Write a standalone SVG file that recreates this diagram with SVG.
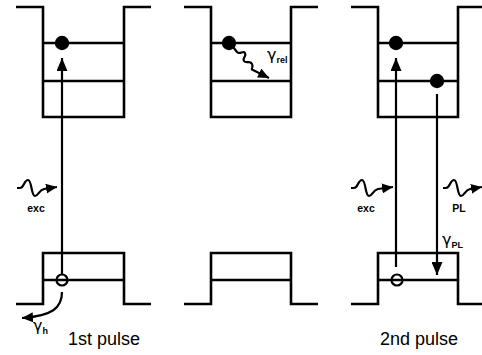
<svg xmlns="http://www.w3.org/2000/svg" width="482" height="355" viewBox="0 0 482 355">
<defs>
<marker id="ah" viewBox="0 0 13 11" refX="13" refY="5.5" markerWidth="13" markerHeight="11" markerUnits="userSpaceOnUse" orient="auto"><path d="M0,0 L13,5.5 L0,11 z" fill="#000"/></marker>
<marker id="ahs" viewBox="0 0 11 10" refX="11" refY="5" markerWidth="11" markerHeight="10" markerUnits="userSpaceOnUse" orient="auto"><path d="M0,0 L11,5 L0,10 z" fill="#000"/></marker>
</defs>
<style>
.w{fill:none;stroke:#000;stroke-width:2.6;stroke-linejoin:miter}
.lv{stroke:#000;stroke-width:2.4}
.c{fill:none;stroke:#000;stroke-width:2.2}
.dot{fill:#000}
.hole{fill:none;stroke:#000;stroke-width:2.2}
.lbl{font-family:"Liberation Sans",Arial,sans-serif;font-weight:bold;font-size:10.5px;text-anchor:middle}
.g{font-family:"DejaVu Sans",sans-serif;font-size:16px}
.sub{font-family:"Liberation Sans",Arial,sans-serif;font-weight:bold;font-size:9px}
.big{font-family:"Liberation Sans",Arial,sans-serif;font-size:18px}
</style>
<rect width="482" height="355" fill="#fff"/>
<g id="panel1-cb">
<path class="w" d="M16,7 H43 V117 H124 V7 H151"/>
<line class="lv" x1="43" y1="43" x2="124" y2="43"/>
<line class="lv" x1="43" y1="81" x2="124" y2="81"/>
<circle class="dot" cx="62" cy="43" r="7.2"/>
</g>
<g id="panel1-vb">
<path class="w" d="M16,304 H43 V253 H124 V304 H151"/>
<line class="lv" x1="43" y1="280" x2="124" y2="280"/>
<circle class="hole" cx="62" cy="280" r="5.5"/>
</g>
<g id="panel2-cb">
<path class="w" d="M184,7 H211 V117 H291 V7 H318"/>
<line class="lv" x1="211" y1="43" x2="291" y2="43"/>
<line class="lv" x1="211" y1="81" x2="291" y2="81"/>
<circle class="dot" cx="229" cy="43" r="7.2"/>
</g>
<g id="panel2-vb">
<path class="w" d="M184,304 H211 V253 H291 V304 H318"/>
<line class="lv" x1="211" y1="280" x2="291" y2="280"/>
</g>
<g id="panel3-cb">
<path class="w" d="M351,7 H378 V117 H458 V7 H482"/>
<line class="lv" x1="378" y1="43" x2="458" y2="43"/>
<line class="lv" x1="378" y1="81" x2="458" y2="81"/>
<circle class="dot" cx="396" cy="43" r="7.2"/>
<circle class="dot" cx="437" cy="81" r="7.2"/>
</g>
<g id="panel3-vb">
<path class="w" d="M351,304 H378 V253 H458 V304 H482"/>
<line class="lv" x1="378" y1="280" x2="458" y2="280"/>
<circle class="hole" cx="397" cy="280" r="5.5"/>
</g>
<g id="connectors">
<line class="c" x1="62" y1="274" x2="62" y2="58" marker-end="url(#ah)"/>
<line class="c" x1="396" y1="267" x2="396" y2="58" marker-end="url(#ah)"/>
<line class="c" x1="437" y1="94" x2="437" y2="275" marker-end="url(#ah)"/>
<path class="c" d="M62,292 C62,308 52,316 22,318" marker-end="url(#ahs)"/>
<path class="c" d="M233,47 L237,52 C240,55 243,50 245,53 C247,56 242,58 244,61 C246,64 250,60 252,64 C254,68 250,69 253,70 L269,78" marker-end="url(#ahs)"/>
<path class="c" d="M17,188 L20,188 C24,188 24,180 28,180 C32,180 31,196 35,196 C38,196 39,190 44,189 L57,187" marker-end="url(#ahs)"/>
<path class="c" d="M351,188 L354,188 C358,188 358,180 362,180 C366,180 365,196 369,196 C372,196 373,190 378,189 L393,187" marker-end="url(#ahs)"/>
<path class="c" d="M443,188 L446,188 C450,188 450,180 454,180 C458,180 457,196 461,196 C464,196 465,190 470,189 L482,187" marker-end="url(#ahs)"/>
</g>
<g id="labels">
<text class="lbl" x="36" y="212">exc</text>
<text class="lbl" x="366" y="212">exc</text>
<text class="lbl" x="459" y="212">PL</text>
<text class="g" x="267" y="60">γ<tspan class="sub" dy="3">rel</tspan></text>
<text class="g" x="442" y="245">γ<tspan class="sub" dy="3">PL</tspan></text>
<text class="g" x="33" y="331">γ<tspan class="sub" dy="3">h</tspan></text>
<text class="big" x="68" y="345">1st pulse</text>
<text class="big" x="380" y="345">2nd pulse</text>
</g>
</svg>
